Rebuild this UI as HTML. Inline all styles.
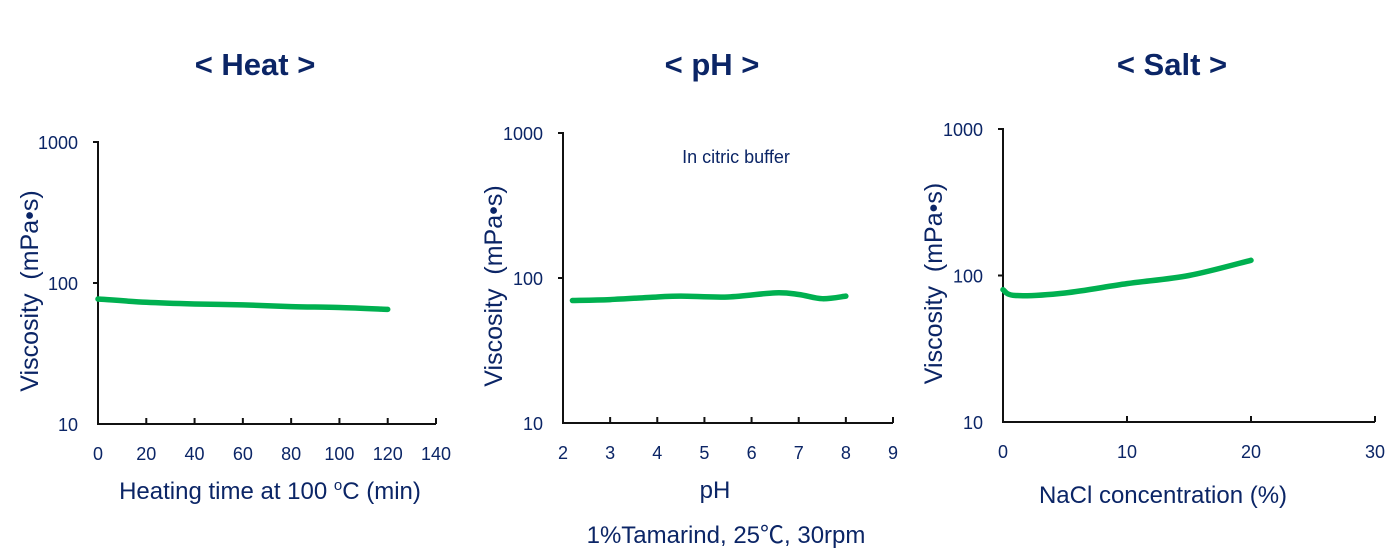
<!DOCTYPE html>
<html><head><meta charset="utf-8"><style>
body{margin:0;width:1394px;height:548px;background:#fff;overflow:hidden;font-family:"Liberation Sans","Noto Sans CJK JP",sans-serif}
svg text{font-family:"Liberation Sans","Noto Sans CJK JP",sans-serif;fill:#0b2566}
</style></head><body>
<svg id="root" width="1394" height="548" viewBox="0 0 1394 548" xmlns="http://www.w3.org/2000/svg">
<text x="255" y="75" text-anchor="middle" font-size="31" font-weight="bold" fill="#002060">&lt; Heat &gt;</text>
<text x="712" y="75" text-anchor="middle" font-size="31" font-weight="bold" fill="#002060">&lt; pH &gt;</text>
<text x="1172" y="75" text-anchor="middle" font-size="31" font-weight="bold" fill="#002060">&lt; Salt &gt;</text>
<text x="736" y="163" text-anchor="middle" font-size="18">In citric buffer</text>
<text x="270" y="499" text-anchor="middle" font-size="24">Heating time at 100 <tspan font-size="15" dy="-9">o</tspan><tspan dy="9">C (min)</tspan></text>
<text x="715" y="498" text-anchor="middle" font-size="24">pH</text>
<text x="1163" y="503" text-anchor="middle" font-size="24">NaCl concentration (%)</text>
<text x="726" y="543" text-anchor="middle" font-size="24">1%Tamarind, 25℃, 30rpm</text>
<g id="charts"></g>
</svg>
<script>
const heatX=[0,20,40,60,80,100,120];
const heatY=[77,73,71,70,68,67,65];
const heatTicks=[0,20,40,60,80,100,120,140];
const phX=[2.2,3,4,4.5,5.5,6.5,7,7.5,8];
const phY=[70,71,74,75,74,79,77,72,75];
const phTicks=[2,3,4,5,6,7,8,9];
const saltX=[0,1,5,10,15,20];
const saltY=[80,73,76,88,100,127];
const saltTicks=[0,10,20,30];
const yTicks=[10,100,1000];

const NS="http://www.w3.org/2000/svg";
const g=document.getElementById('charts');
function mk(tag,attrs){const e=document.createElementNS(NS,tag);for(const k in attrs)e.setAttribute(k,attrs[k]);g.appendChild(e);return e;}
function chart(id,xs,ys,xt,x0,x1,yTop,yBot,ytitleX){
  const xmin=xt[0],xmax=xt[xt.length-1];
  const sx=v=>x0+(v-xmin)/(xmax-xmin)*(x1-x0);
  const sy=v=>yBot-(Math.log10(v)-1)/2*(yBot-yTop);
  const ax=mk('path',{d:`M${x0-5} ${yTop}H${x0}V${yBot}H${x1}`,stroke:'#111',fill:'none','stroke-width':2});
  
  
  xt.forEach(t=>{
    const tk=mk('line',{x1:sx(t),x2:sx(t),y1:yBot,y2:yBot-6,stroke:'#111','stroke-width':2});
    
    
    const tl=mk('text',{x:sx(t),y:yBot+36,'text-anchor':'middle','font-size':18});
    tl.textContent=t;
    
    
  });
  yTicks.forEach(t=>{
    if(t!==10){const tk=mk('line',{x1:x0-5,x2:x0,y1:sy(t),y2:sy(t),stroke:'#111','stroke-width':2});
    
    }
    const tl=mk('text',{x:x0-20,y:sy(t)+7,'text-anchor':'end','font-size':18});
    tl.textContent=t;
    
    
  });
  const yt=mk('text',{x:0,y:0,'font-size':25,transform:`translate(${ytitleX},${(yTop+yBot)/2+8}) rotate(-90)`,'text-anchor':'middle'});
  yt.textContent='Viscosity\u00a0\u00a0(mPa\u2022s)';
  
  
  const pts=xs.map((x,i)=>[sx(x),sy(ys[i])]);
  let d=`M${pts[0][0]} ${pts[0][1]}`;
  for(let i=1;i<pts.length;i++){
    const p0=pts[Math.max(0,i-2)],p1=pts[i-1],p2=pts[i],p3=pts[Math.min(pts.length-1,i+1)];
    d+=` C${p1[0]+(p2[0]-p0[0])/6} ${p1[1]+(p2[1]-p0[1])/6} ${p2[0]-(p3[0]-p1[0])/6} ${p2[1]-(p3[1]-p1[1])/6} ${p2[0]} ${p2[1]}`;
  }
  const ln=mk('path',{d:d,stroke:'#00b050',fill:'none','stroke-width':5.5,'stroke-linecap':'round'});
  
  
}
chart('heat',heatX,heatY,heatTicks,98,436,142,424,38);
chart('ph',phX,phY,phTicks,563,893,133,423,502);
chart('salt',saltX,saltY,saltTicks,1003,1375,129,422,942);
</script>
</body></html>
